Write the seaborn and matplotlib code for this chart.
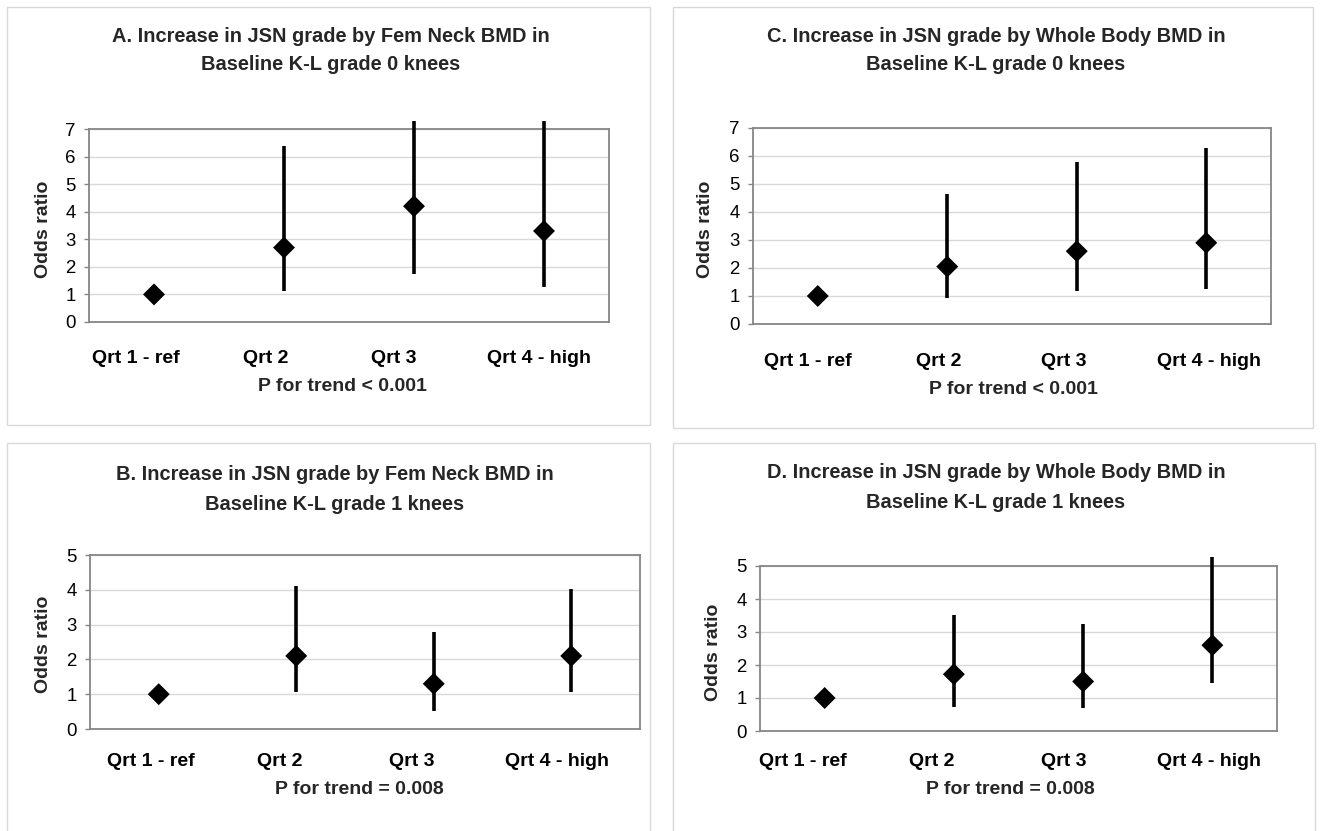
import matplotlib
matplotlib.use("Agg")
import matplotlib.pyplot as plt
import matplotlib.transforms as mtransforms
from matplotlib.patches import Rectangle
import seaborn as sns
import pandas as pd
import numpy as np

# ---------------- data ----------------
categories = ["Qrt 1 - ref", "Qrt 2", "Qrt 3", "Qrt 4 - high"]

a_title = "A. Increase in JSN grade by Fem Neck BMD in\nBaseline K-L grade 0 knees"
a_or = [1.0, 2.7, 4.2, 3.3]
a_lo = [np.nan, 1.13, 1.73, 1.28]
a_hi = [np.nan, 6.4, 7.3, 7.3]
a_p = "P for trend < 0.001"
a_ymax = 7

c_title = "C. Increase in JSN grade by Whole Body BMD in\nBaseline K-L grade 0 knees"
c_or = [1.0, 2.05, 2.6, 2.9]
c_lo = [np.nan, 0.92, 1.17, 1.25]
c_hi = [np.nan, 4.63, 5.78, 6.3]
c_p = "P for trend < 0.001"
c_ymax = 7

b_title = "B. Increase in JSN grade by Fem Neck BMD in\nBaseline K-L grade 1 knees"
b_or = [1.0, 2.1, 1.3, 2.1]
b_lo = [np.nan, 1.05, 0.53, 1.05]
b_hi = [np.nan, 4.12, 2.8, 4.02]
b_p = "P for trend = 0.008"
b_ymax = 5

d_title = "D. Increase in JSN grade by Whole Body BMD in\nBaseline K-L grade 1 knees"
d_or = [1.0, 1.72, 1.5, 2.6]
d_lo = [np.nan, 0.74, 0.69, 1.45]
d_hi = [np.nan, 3.53, 3.25, 5.26]
d_p = "P for trend = 0.008"
d_ymax = 5

ylabel = "Odds ratio"

# ---------------- layout (pixels) ----------------
W, H = 1320, 831
sns.set_theme(style="white")
plt.rcParams['font.family'] = ['Liberation Sans', 'DejaVu Sans']

fig = plt.figure(figsize=(W / 100, H / 100), dpi=100)
fig.patch.set_facecolor("white")


def fx(x):
    return x / W


def fy(y):
    return 1 - y / H


panels = [
    dict(title=a_title, orr=a_or, lo=a_lo, hi=a_hi, p=a_p, ymax=a_ymax,
         box=(7, 7, 650, 425), ax=(89, 129, 609, 322),
         tc=(331, 37, 65), yl=(43, 229), pp=(342, 387), lab_y=360,
         off=[-18, -18, -20, -5]),
    dict(title=c_title, orr=c_or, lo=c_lo, hi=c_hi, p=c_p, ymax=c_ymax,
         box=(673, 7, 1313, 428), ax=(753, 128, 1271, 324),
         tc=(996, 37, 65), yl=(706, 229), pp=(1013, 390), lab_y=363,
         off=[-10, -9, -13, 3]),
    dict(title=b_title, orr=b_or, lo=b_lo, hi=b_hi, p=b_p, ymax=b_ymax,
         box=(7, 443, 650, 835), ax=(90, 555, 640, 729),
         tc=(335, 474, 504), yl=(44, 644), pp=(359, 789), lab_y=763,
         off=[-8, -17, -22, -14]),
    dict(title=d_title, orr=d_or, lo=d_lo, hi=d_hi, p=d_p, ymax=d_ymax,
         box=(673, 443, 1315, 835), ax=(760, 566, 1277, 731),
         tc=(996, 472, 502), yl=(714, 652), pp=(1010, 789), lab_y=763,
         off=[-22, -22, -19, -3]),
]

for P in panels:
    # outer panel frame
    x0, y0, x1, y1 = P["box"]
    fig.patches.append(Rectangle((fx(x0), fy(y1)), fx(x1 - x0), (y1 - y0) / H,
                                 transform=fig.transFigure, fill=False,
                                 edgecolor="#d9d9d9", lw=1.0, zorder=0))

    ax0, ay0, ax1, ay1 = P["ax"]
    ax = fig.add_axes([fx(ax0), fy(ay1), fx(ax1 - ax0), (ay1 - ay0) / H])
    ax.set_facecolor("white")

    df = pd.DataFrame({"x": np.arange(len(categories)), "cat": categories,
                       "or": P["orr"], "lo": P["lo"], "hi": P["hi"]})
    ci = df.dropna()
    ax.vlines(ci["x"], ci["lo"], ci["hi"], color="black", lw=2.6,
              clip_on=False, zorder=3)
    sns.scatterplot(data=df, x="x", y="or", marker="D", s=125, color="black",
                    edgecolor="none", linewidth=0, ax=ax, zorder=4,
                    clip_on=False, legend=False)

    ax.set_xlim(-0.5, len(categories) - 0.5)
    ax.set_ylim(0, P["ymax"])
    ax.set_yticks(range(P["ymax"] + 1))
    ax.set_yticklabels([str(v) for v in range(P["ymax"] + 1)],
                       fontsize=13.4, color="black")
    ax.grid(axis="y", color="#d9d9d9", lw=1.0, zorder=0)
    ax.grid(axis="x", visible=False)
    ax.set_axisbelow(True)
    for s in ax.spines.values():
        s.set_color("#868686")
        s.set_linewidth(1.3)
        s.set_visible(True)
    ax.tick_params(axis="y", which="major", left=True, length=3.6, width=1,
                   color="#868686", pad=6)

    ax.set_xticks(df["x"])
    ax.set_xticklabels(categories, fontsize=14, fontweight="bold",
                       color="black")
    pad_px = (P["lab_y"] - 10) - ay1
    ax.tick_params(axis="x", length=0, pad=pad_px * 72 / 100)
    for lab, off in zip(ax.get_xticklabels(), P["off"]):
        lab.set_transform(lab.get_transform() +
                          mtransforms.ScaledTranslation(off / 100, 0,
                                                        fig.dpi_scale_trans))
    ax.set_xlabel("")
    ax.set_ylabel("")

    # texts
    l1, l2 = P["title"].split("\n")
    tcx, ty1, ty2 = P["tc"]
    fig.text(fx(tcx), fy(ty1), l1, ha="center", va="center", fontsize=14.4,
             fontweight="bold")
    fig.text(fx(tcx), fy(ty2), l2, ha="center", va="center", fontsize=14.4,
             fontweight="bold")
    fig.text(fx(P["yl"][0]), fy(P["yl"][1]), ylabel, rotation=90,
             ha="center", va="center", fontsize=14, fontweight="bold")
    fig.text(fx(P["pp"][0]), fy(P["pp"][1]), P["p"], ha="center",
             va="center", fontsize=14, fontweight="bold")

fig.savefig("out.png", dpi=100, facecolor="white")
